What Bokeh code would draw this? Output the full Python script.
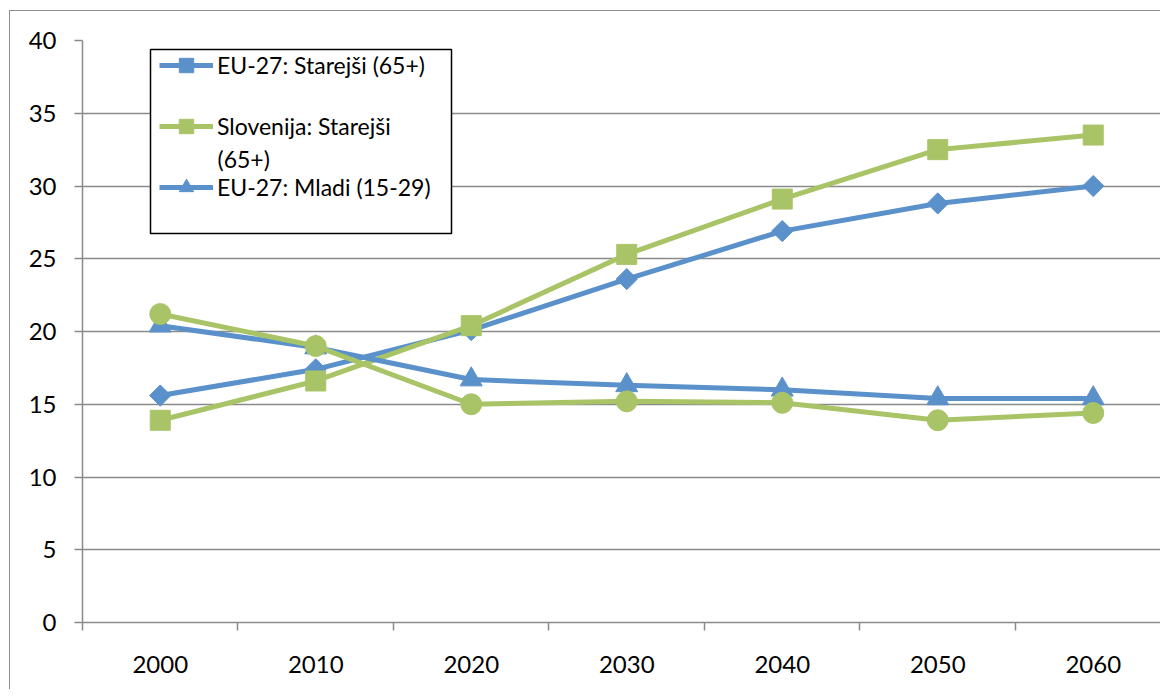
import numpy as np
from bokeh.plotting import figure
from bokeh.models import Range1d, FixedTicker, Legend, LegendItem, BoxAnnotation, Label
from bokeh.embed import file_html
from bokeh.resources import INLINE

years = [2000, 2010, 2020, 2030, 2040, 2050, 2060]
eu_old = [15.6, 17.4, 20.1, 23.6, 26.9, 28.8, 30.0]
si_old = [13.9, 16.6, 20.4, 25.3, 29.1, 32.5, 33.5]
eu_young = [20.4, 18.9, 16.7, 16.3, 16.0, 15.4, 15.4]
si_young = [21.2, 19.0, 15.0, 15.2, 15.1, 13.9, 14.4]
y_ticks = [0, 5, 10, 15, 20, 25, 30, 35, 40]
labels = ["EU-27: Starejši (65+)", "Slovenija: Starejši", "EU-27: Mladi (15-29)"]
label_cont = "(65+)"

BLUE = "#5B91CB"
GREEN = "#A9C467"
GRAY = "#8A8A8A"
FONT = "Lato"
FS = "23px"

p = figure(width=1151, height=679, output_backend="svg", toolbar_location=None,
           x_range=Range1d(1995, 2064.39), y_range=Range1d(0, 40),
           min_border_left=72, min_border_right=0, min_border_top=29, min_border_bottom=68)
p.outline_line_color = None
p.background_fill_color = "white"
p.border_fill_color = "white"
p.styles = {"margin-left": "9px", "margin-top": "10px",
            "border-left": "1.5px solid #8E8E8E", "border-top": "1.5px solid #8E8E8E"}

# axes
p.xaxis.ticker = FixedTicker(ticks=years, minor_ticks=[1995 + 10 * i for i in range(8)])
p.xaxis.major_tick_out = 0
p.xaxis.major_tick_in = 0
p.xaxis.minor_tick_out = 8
p.xaxis.minor_tick_in = 0
p.xaxis.minor_tick_line_color = GRAY
p.xaxis.minor_tick_line_width = 1.5
p.xaxis.major_label_standoff = 25
p.yaxis.ticker = FixedTicker(ticks=y_ticks)
p.yaxis.major_tick_out = 8
p.yaxis.major_tick_in = 0
p.yaxis.minor_tick_line_color = None
p.yaxis.major_tick_line_color = GRAY
p.yaxis.major_tick_line_width = 1.5
p.yaxis.major_label_standoff = 18
for ax in (p.xaxis, p.yaxis):
    ax.axis_line_color = GRAY
    ax.axis_line_width = 1.5
    ax.major_label_text_font = FONT
    ax.major_label_text_font_size = "24px"
    ax.major_label_text_color = "black"

p.xgrid.grid_line_color = None
p.ygrid.ticker = FixedTicker(ticks=y_ticks)
p.ygrid.grid_line_color = GRAY
p.ygrid.grid_line_width = 1.5

r1l = p.line(years, eu_old, color=BLUE, line_width=5)
r1m = p.scatter(years, eu_old, marker="square", angle=np.pi / 4, size=15, color=BLUE)
r2l = p.line(years, si_old, color=GREEN, line_width=5)
r2m = p.scatter(years, si_old, marker="square", size=20, color=GREEN)
r3l = p.line(years, eu_young, color=BLUE, line_width=5)
r3m = p.scatter(years, eu_young, marker="triangle", size=22, color=BLUE)
r4l = p.line(years, si_young, color=GREEN, line_width=5)
r4m = p.scatter(years, si_young, marker="circle", size=21, color=GREEN)

# legend frame (screen units, relative to plot frame)
p.add_layout(BoxAnnotation(left=68, right=369, bottom=389, top=573,
                           left_units="screen", right_units="screen",
                           top_units="screen", bottom_units="screen",
                           fill_color="white", fill_alpha=1,
                           line_color="black", line_alpha=1, line_width=1.5))

legend = Legend(items=[
    LegendItem(label=labels[0], renderers=[r1l, r1m]),
    LegendItem(label=labels[1], renderers=[r2l, r2m]),
    LegendItem(label=labels[2], renderers=[r3l, r3m]),
], location=(77, 417))
legend.border_line_color = None
legend.background_fill_alpha = 0
legend.label_text_font = FONT
legend.label_text_font_size = FS
legend.label_text_color = "black"
legend.glyph_width = 54
legend.glyph_height = 36
legend.label_height = 36
legend.spacing = 25
legend.padding = 0
legend.margin = 0
legend.label_standoff = 4
p.add_layout(legend)

p.add_layout(Label(x=135, y=464, x_units="screen", y_units="screen", text=label_cont,
                   text_font=FONT, text_font_size=FS, text_baseline="middle",
                   text_color="black"))

open("out.html", "w").write(file_html(p, INLINE))
